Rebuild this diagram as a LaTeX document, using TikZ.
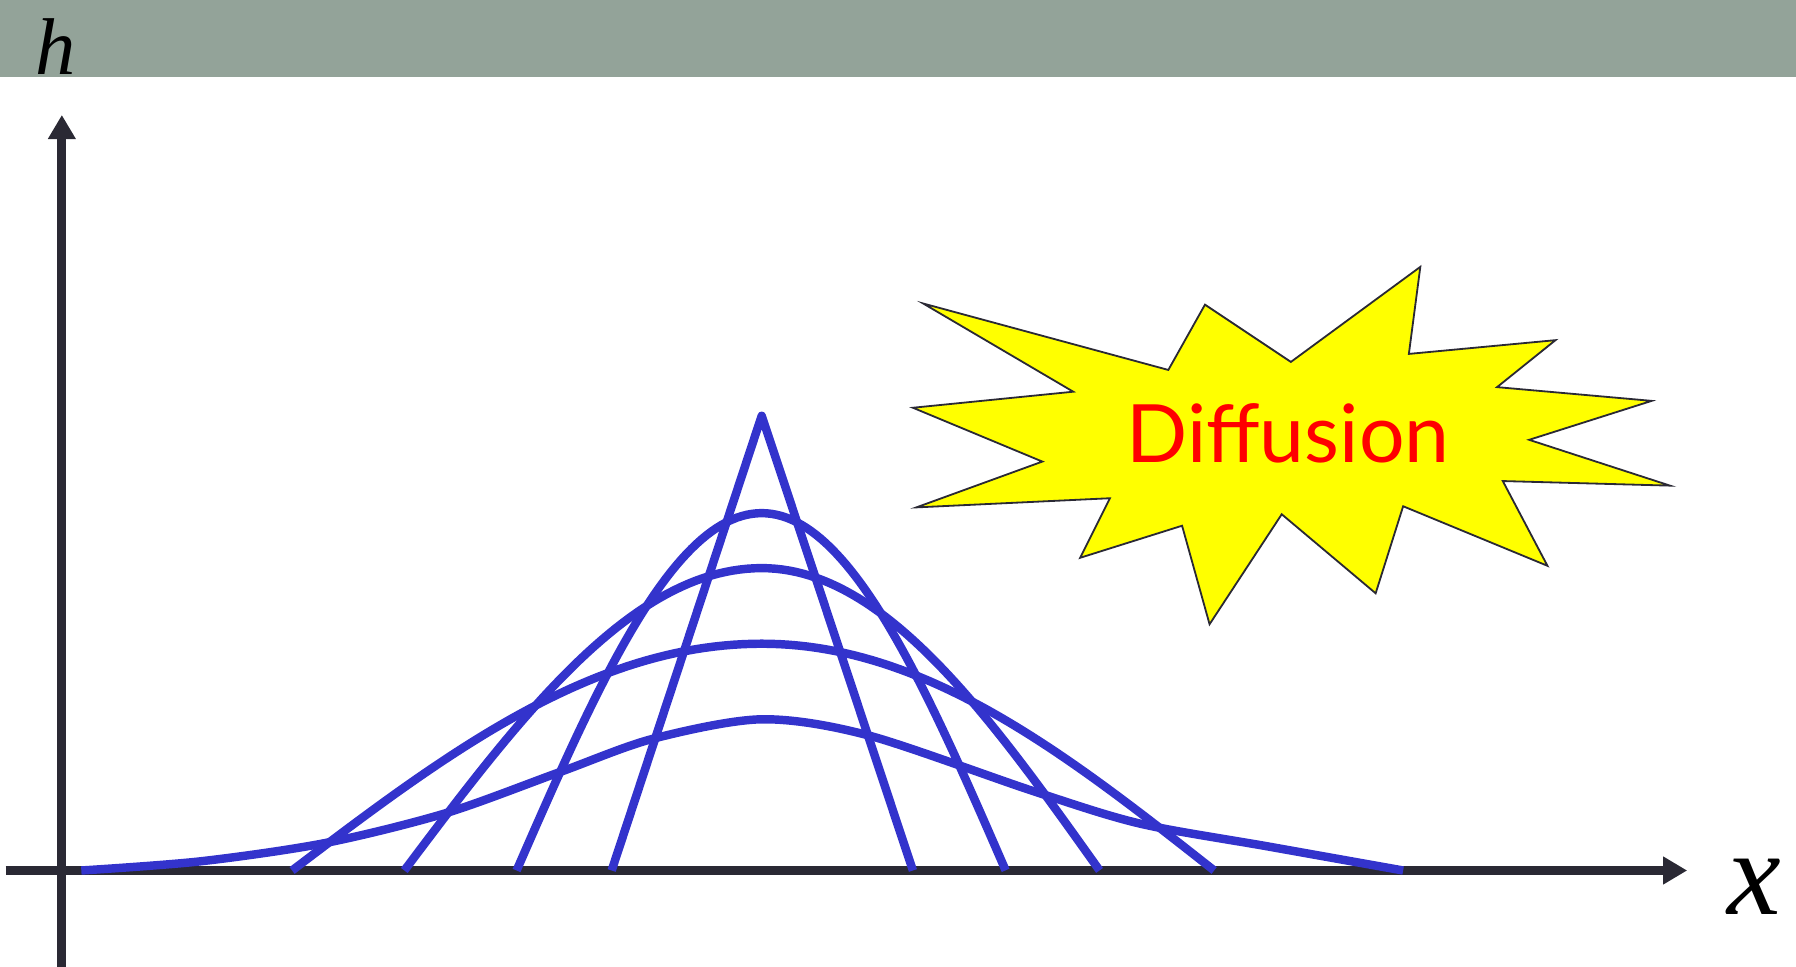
\documentclass[tikz,border=0pt]{standalone}
\usepackage{fontspec}
\usepackage{tikz}
\usepackage{xcolor}
\usetikzlibrary{arrows.meta}

\newfontfamily\labelfont{Liberation Serif}
\newfontfamily\burstfont{Lato}

\definecolor{headergreen}{RGB}{147,163,153}
\definecolor{axisgray}{RGB}{42,41,52}
\definecolor{profileblue}{RGB}{51,51,204}
\definecolor{burstyellow}{RGB}{255,255,0}

\begin{document}
\begin{tikzpicture}[
    axisline/.style={line width=2.2pt, axisgray, -{Triangle[length=2.1mm, width=2.3mm]}},
    profile/.style={line width=2.1pt, profileblue, line join=round},
  ]
    \useasboundingbox (-0.54,-0.84) rectangle (15.14,7.60);

    % Header bar
    \fill[headergreen] (-0.54,6.93) rectangle (15.14,7.60);
    \node[anchor=base, inner sep=0pt, font=\labelfont\itshape\fontsize{20}{24}\selectfont] (hlabel) at (-0.05,6.945) {h};

    % Axes
    \coordinate (xstart) at (-0.49,0);
    \coordinate (xend) at (14.19,0);
    \coordinate (ystart) at (0,-0.90);
    \coordinate (yend) at (0,6.596);
    \draw[axisline] (ystart) -- (yend);
    \draw[axisline] (xstart) -- (xend);
    \node[anchor=base, inner sep=0pt, font=\labelfont\itshape\fontsize{30}{36}\selectfont] (xlabel) at (14.78,-0.38) {x};

    % Initial profile (sharp peak)
    \draw[profile] (4.80,0) -- (6.11,3.97) -- (7.43,0);

    % Spreading profiles
    \foreach \hp/\xl/\xr in {3.12/3.97/8.24, 2.64/2.99/9.06, 1.98/2.01/10.06}
      \draw[profile] plot[domain=\xl:6.11, samples=50] (\x, {\hp*cos(90*(6.11-\x)/(6.11-\xl))})
        -- plot[domain=6.11:\xr, samples=50] (\x, {\hp*cos(90*(\x-6.11)/(\xr-6.11))});

    % Late profile (long tails)
    \draw[profile] plot[smooth] coordinates {(0.17,0) (1.21,0.08) (2.30,0.24) (3.35,0.50) (4.35,0.86) (5.16,1.15) (6.11,1.32) (7.04,1.18) (8.49,0.69) (9.41,0.41) (10.53,0.21) (11.71,0)};

    % Burst
    \filldraw[fill=burstyellow, draw=axisgray, line width=0.45pt]
      (7.52,4.95) -- (9.66,4.37) -- (9.98,4.94) -- (10.73,4.44) -- (11.86,5.27) -- (11.76,4.51)
      -- (13.04,4.63) -- (12.53,4.22) -- (13.88,4.10) -- (12.81,3.76) -- (14.04,3.36) -- (12.58,3.40)
      -- (12.97,2.66) -- (11.71,3.18) -- (11.47,2.42) -- (10.65,3.11) -- (10.02,2.15) -- (9.78,3.01)
      -- (8.89,2.73) -- (9.15,3.25) -- (7.46,3.17) -- (8.56,3.57) -- (7.43,4.04) -- (8.83,4.18) -- cycle;
    \node[anchor=base, inner sep=0pt, text=red, font=\burstfont\fontsize{20}{24}\selectfont] (burstlabel) at (10.705,3.56) {Diffusion};
\end{tikzpicture}
\end{document}
